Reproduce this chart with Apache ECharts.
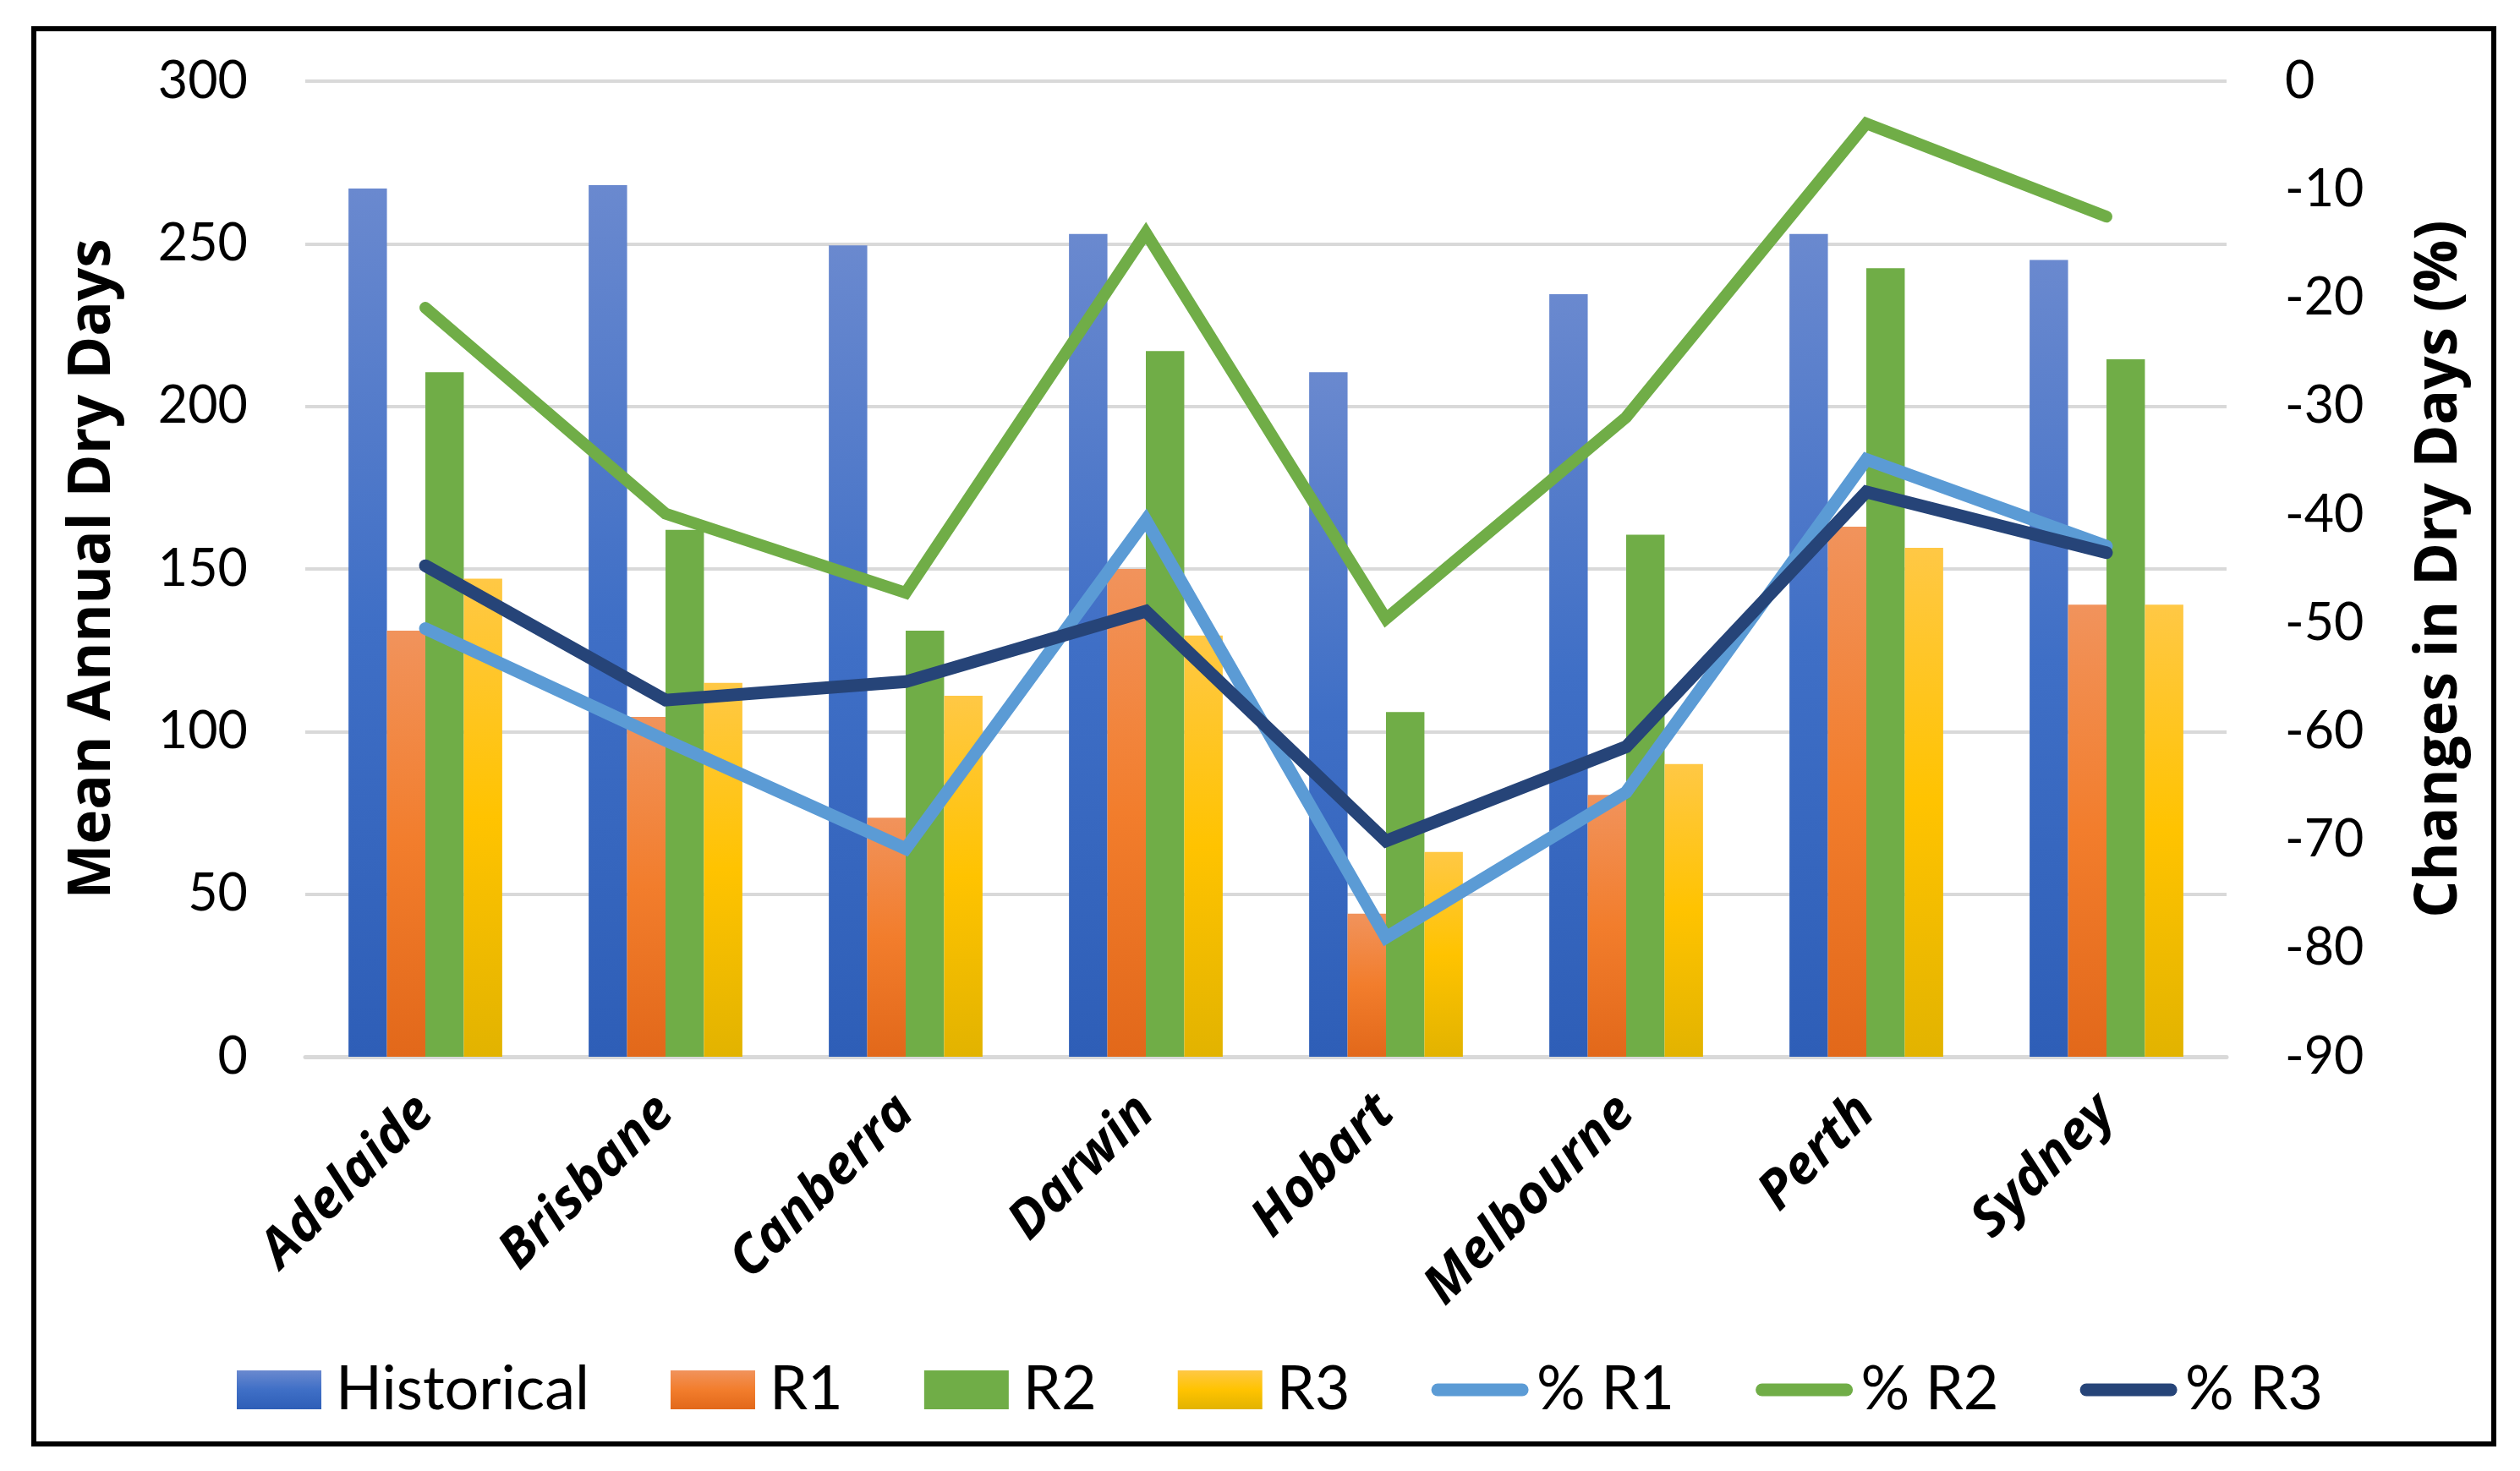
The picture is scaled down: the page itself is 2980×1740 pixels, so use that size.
<!DOCTYPE html>
<html>
<head>
<meta charset="utf-8">
<script src="https://cdn.jsdelivr.net/npm/echarts/dist/echarts.min.js"></script>
<style>
html,body{margin:0;padding:0;background:#fff;}
#chart{width:2980px;height:1740px;}
</style>
</head>
<body>
<div id="chart"></div>
<script>
const cities = ['Adelaide','Brisbane','Canberra','Darwin','Hobart','Melbourne','Perth','Sydney'];
const historical = [267, 268, 249.5, 253, 210.5, 234.5, 253, 245];
const r1 = [131, 104.5, 73.5, 150, 44, 80.5, 163, 139];
const r2 = [210.5, 162, 131, 217, 106, 160.5, 242.5, 214.5];
const r3 = [147, 115, 111, 129.5, 63, 90, 156.5, 139];
const pctR1 = [-50.5, -60.8, -70.8, -40.5, -79, -65.6, -34.9, -42.9];
const pctR2 = [-20.9, -39.9, -47.2, -14, -49.6, -31, -3.9, -12.5];
const pctR3 = [-44.7, -57.1, -55.4, -48.9, -70.1, -61.4, -37.9, -43.5];
const leftTicks = {min: 0, max: 300, interval: 50};
const rightTicks = {min: -90, max: 0, interval: 10};

const chart = echarts.init(document.getElementById('chart'));
const G = echarts.graphic.LinearGradient;
const blueGrad = new G(0,0,0,1,[{offset:0,color:'#6A89CF'},{offset:0.5,color:'#3F6FC6'},{offset:1,color:'#2E5EB7'}]);
const orangeGrad = new G(0,0,0,1,[{offset:0,color:'#F1935C'},{offset:0.5,color:'#F27D2C'},{offset:1,color:'#E2681A'}]);
const yellowGrad = new G(0,0,0,1,[{offset:0,color:'#FFC845'},{offset:0.5,color:'#FFC300'},{offset:1,color:'#E2B300'}]);
const green = '#70AD47';

const tickFont = {fontFamily:'Lato', fontSize:61, color:'#000'};
const titleFont = {fontFamily:'Open Sans', fontWeight:'bold', fontSize:69, color:'#000'};

function bar(name, data, color){
  return {name, type:'bar', data, yAxisIndex:0, itemStyle:{color}, barGap:'0%', barCategoryGap:'36%'};
}
function line(name, data, color, w){
  return {name, type:'line', data, yAxisIndex:1, symbol:'none', z:5,
    lineStyle:{color, width:w, cap:'round', join:'miter'}, itemStyle:{color}};
}
function legLine(name, color){
  return {name, itemStyle:{opacity:0}, lineStyle:{color, width:15, cap:'round'}};
}

chart.setOption({
  animation:false,
  backgroundColor:'#fff',
  grid:{left:361, right:347, top:96, bottom:490},
  legend:{
    left:275, top:1603, itemWidth:100, itemHeight:46, itemGap:96,
    textStyle:{fontFamily:'Lato', fontSize:72, color:'#000', padding:[0,0,0,12]},
    data:[
      {name:'Historical', icon:'rect'},
      {name:'R1', icon:'rect'},
      {name:'R2', icon:'rect'},
      {name:'R3', icon:'rect'},
      legLine('% R1', '#5B9BD5'),
      legLine('% R2', '#70AD47'),
      legLine('% R3', '#264478')
    ]
  },
  xAxis:{
    type:'category', data:cities,
    axisTick:{show:false},
    axisLine:{lineStyle:{color:'#D9D9D9', width:5}},
    axisLabel:{interval:0, rotate:45, margin:56, fontFamily:'Open Sans', fontWeight:'bold', fontStyle:'italic', fontSize:63, color:'#000'}
  },
  yAxis:[
    {type:'value', min:leftTicks.min, max:leftTicks.max, interval:leftTicks.interval,
     axisLine:{show:false}, axisTick:{show:false},
     splitLine:{lineStyle:{color:'#D9D9D9', width:4}},
     axisLabel:Object.assign({margin:68}, tickFont),
     name:'Mean Annual Dry Days', nameLocation:'middle', nameRotate:90, nameGap:216,
     nameTextStyle:titleFont},
    {type:'value', min:rightTicks.min, max:rightTicks.max, interval:rightTicks.interval,
     position:'right',
     axisLine:{show:false}, axisTick:{show:false}, splitLine:{show:false},
     axisLabel:Object.assign({margin:69}, tickFont),
     name:'Changes in Dry Days (%)', nameLocation:'middle', nameRotate:90, nameGap:218,
     nameTextStyle:titleFont}
  ],
  series:[
    bar('Historical', historical, blueGrad),
    bar('R1', r1, orangeGrad),
    bar('R2', r2, green),
    bar('R3', r3, yellowGrad),
    line('% R1', pctR1, '#5B9BD5', 15),
    line('% R2', pctR2, '#70AD47', 14),
    line('% R3', pctR3, '#264478', 15)
  ],
  graphic:[
    {type:'rect', shape:{x:40, y:34, width:2909, height:1674}, z:100,
     style:{fill:'none', stroke:'#000', lineWidth:6}}
  ]
});
</script>
</body>
</html>
